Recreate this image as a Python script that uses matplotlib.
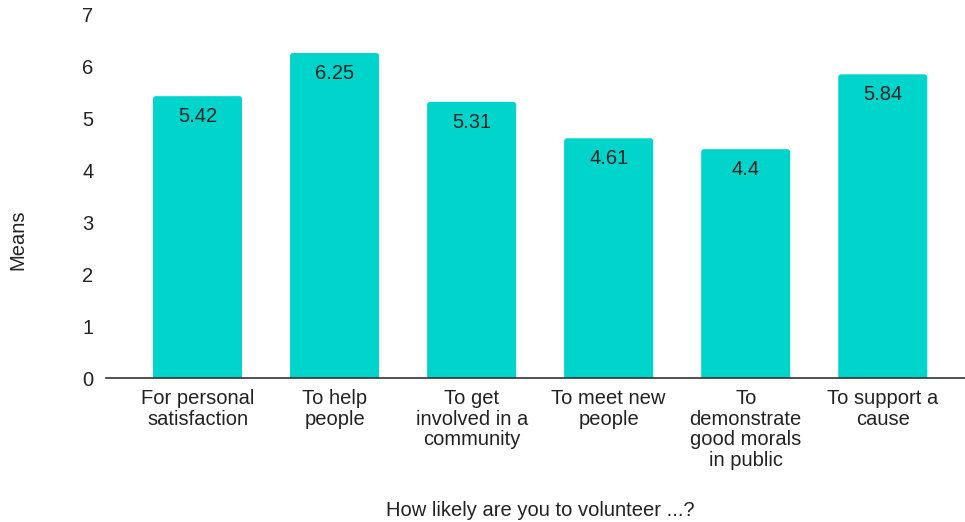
import matplotlib
matplotlib.use("Agg")
import matplotlib.pyplot as plt
from matplotlib.patches import FancyBboxPatch

categories = [
    "For personal\nsatisfaction",
    "To help\npeople",
    "To get\ninvolved in a\ncommunity",
    "To meet new\npeople",
    "To\ndemonstrate\ngood morals\nin public",
    "To support a\ncause",
]
means = [5.42, 6.25, 5.31, 4.61, 4.4, 5.84]
value_labels = ["5.42", "6.25", "5.31", "4.61", "4.4", "5.84"]
y_ticks = [0, 1, 2, 3, 4, 5, 6, 7]

plt.rcParams["font.family"] = ["Liberation Sans", "DejaVu Sans"]
FS = 14.5
TXT = "#222222"
BAR = "#00d4cb"

fig = plt.figure(figsize=(9.65, 5.22), dpi=100)
ax = fig.add_axes([106 / 965, 1 - 378 / 522, (965 - 106) / 965, (378 - 14) / 522])

x = list(range(len(categories)))
bars = ax.bar(x, means, width=0.65, color=BAR, zorder=2)

ax.set_xlim(-0.668, 5.60)
ax.set_ylim(0, 7)

# swap the plain rectangles for ones with slightly rounded top corners
x_per_px = (5.60 + 0.668) / 859
y_per_px = 7 / 364
for rect in bars:
    rect.set_visible(False)
    patch = FancyBboxPatch(
        (rect.get_x(), -0.3), rect.get_width(), rect.get_height() + 0.3,
        boxstyle=f"round,pad=0,rounding_size={3 * x_per_px}",
        mutation_aspect=y_per_px / x_per_px,
        facecolor=BAR, edgecolor="none", zorder=2, clip_on=True,
    )
    ax.add_patch(patch)

for rect, lab in zip(bars, value_labels):
    ax.annotate(lab, (rect.get_x() + rect.get_width() / 2, rect.get_height()),
                xytext=(0, -8), textcoords="offset points",
                ha="center", va="top", fontsize=FS, color=TXT, zorder=3)

ax.set_yticks(y_ticks)
ax.set_xticks(x)
ax.set_xticklabels(categories, fontsize=FS, color=TXT, linespacing=1.1)
ax.tick_params(axis="y", length=0, labelsize=FS, labelcolor=TXT, pad=9)
ax.tick_params(axis="x", length=0, pad=8)

for side in ["top", "right", "left"]:
    ax.spines[side].set_visible(False)
ax.spines["bottom"].set_color("#333333")
ax.spines["bottom"].set_linewidth(1.2)
ax.spines["bottom"].set_zorder(4)

fig.text(540 / 965, 1 - 510 / 522, "How likely are you to volunteer ...?",
         ha="center", va="center", fontsize=FS, color=TXT)
fig.text(18 / 965, 1 - 240 / 522, "Means", rotation=90,
         ha="center", va="center", fontsize=FS, color=TXT)

fig.savefig("out.png", dpi=100)
